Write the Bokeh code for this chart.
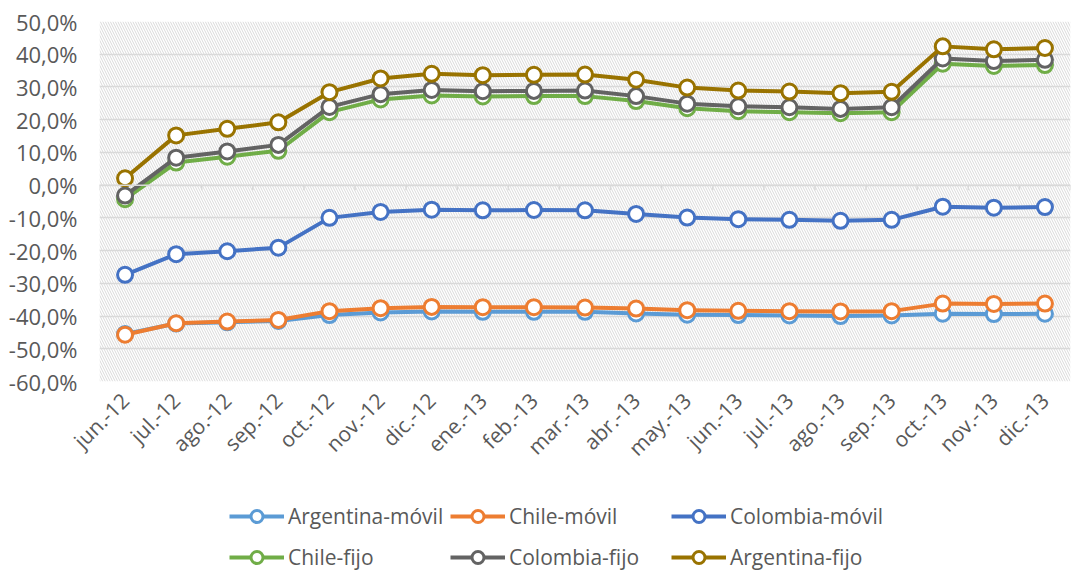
from bokeh.plotting import figure
from bokeh.layouts import column
from bokeh.models import (FactorRange, Range1d, CustomJSTickFormatter, FixedTicker,
                          BoxAnnotation, Legend, LegendItem, Span, ColumnDataSource)
from bokeh.transform import dodge
from bokeh.embed import file_html
from bokeh.resources import INLINE
import math

months = ["jun.-12", "jul.-12", "ago.-12", "sep.-12", "oct.-12", "nov.-12", "dic.-12",
          "ene.-13", "feb.-13", "mar.-13", "abr.-13", "may.-13", "jun.-13", "jul.-13",
          "ago.-13", "sep.-13", "oct.-13", "nov.-13", "dic.-13"]

argentina_movil = [-45.5, -42.3, -41.9, -41.5, -39.7, -38.9, -38.6, -38.7, -38.7, -38.7,
                   -39.2, -39.6, -39.7, -39.8, -40.0, -39.8, -39.3, -39.4, -39.3]
chile_movil = [-45.7, -42.2, -41.7, -41.2, -38.5, -37.6, -37.2, -37.3, -37.3, -37.4,
               -37.7, -38.2, -38.4, -38.5, -38.6, -38.5, -36.2, -36.3, -36.2]
colombia_movil = [-27.4, -21.1, -20.2, -19.1, -10.0, -8.2, -7.5, -7.7, -7.6, -7.7,
                  -8.8, -9.9, -10.4, -10.6, -10.9, -10.6, -6.6, -6.9, -6.7]
chile_fijo = [-4.3, 6.9, 8.7, 10.5, 22.3, 26.2, 27.4, 27.1, 27.2, 27.2,
              25.7, 23.5, 22.6, 22.3, 22.0, 22.3, 37.1, 36.4, 36.7]
colombia_fijo = [-3.2, 8.4, 10.3, 12.3, 23.9, 27.8, 29.1, 28.7, 28.8, 28.9,
                 27.2, 24.9, 24.1, 23.8, 23.3, 23.8, 38.7, 37.9, 38.3]
argentina_fijo = [2.1, 15.2, 17.2, 19.2, 28.4, 32.6, 34.0, 33.6, 33.7, 33.8,
                  32.2, 29.8, 28.9, 28.6, 28.1, 28.5, 42.4, 41.5, 41.9]

series_names = ["Argentina-móvil", "Chile-móvil", "Colombia-móvil",
                "Chile-fijo", "Colombia-fijo", "Argentina-fijo"]
series_values = [argentina_movil, chile_movil, colombia_movil,
                 chile_fijo, colombia_fijo, argentina_fijo]
series_colors = ["#5B9BD5", "#ED7D31", "#4472C4", "#70AD47", "#636363", "#997300"]
y_ticks = list(range(-60, 51, 10))

FONT = "Open Sans"
TXT = "#595959"

p = figure(x_range=FactorRange(*months, range_padding=0), y_range=Range1d(-60, 50),
           width=1072, height=476, output_backend="svg", toolbar_location=None,
           min_border_left=99, min_border_right=2, min_border_top=21, min_border_bottom=95)
p.outline_line_color = None
p.background_fill_color = "white"
p.border_fill_color = "white"

# hatched plot area
p.add_layout(BoxAnnotation(fill_alpha=0, line_alpha=0, hatch_pattern="\\",
                           hatch_color="#d9d9d9", hatch_scale=5, hatch_weight=1,
                           level="underlay"))

p.xgrid.visible = False
p.ygrid.grid_line_color = "#d9d9d9"
p.ygrid.grid_line_width = 1.5

p.yaxis.ticker = FixedTicker(ticks=y_ticks)
p.yaxis.formatter = CustomJSTickFormatter(code="return tick.toFixed(1).replace('.', ',') + '%';")
p.yaxis.axis_line_color = None
p.yaxis.major_tick_line_color = None
p.yaxis.minor_tick_line_color = None
p.yaxis.major_tick_out = 0
p.yaxis.major_label_standoff = 22
p.yaxis.major_label_text_font = FONT
p.yaxis.major_label_text_font_size = "22px"
p.yaxis.major_label_text_color = TXT

p.xaxis.axis_line_color = None
p.xaxis.major_tick_line_color = None
p.xaxis.major_tick_out = 0
p.xaxis.major_label_standoff = 15
p.xaxis.major_label_orientation = math.pi / 4
p.xaxis.major_label_text_font = FONT
p.xaxis.major_label_text_font_size = "21px"
p.xaxis.major_label_text_color = TXT

# zero axis line with category-boundary ticks
p.add_layout(Span(location=0, dimension="width", line_color="#d9d9d9", line_width=1.5))
tick_src = ColumnDataSource(dict(cat=months, y0=[0] * len(months), y1=[-1.6] * len(months)))
p.segment(x0=dodge("cat", -0.5, range=p.x_range), x1=dodge("cat", -0.5, range=p.x_range),
          y0="y0", y1="y1", source=tick_src, line_color="#d9d9d9", line_width=1.5)
p.segment(x0=dodge("cat", 0.5, range=p.x_range), x1=dodge("cat", 0.5, range=p.x_range),
          y0="y0", y1="y1", source=ColumnDataSource(dict(cat=[months[-1]], y0=[0], y1=[-1.6])),
          line_color="#d9d9d9", line_width=1.5)

for name, vals, col in zip(series_names, series_values, series_colors):
    src = ColumnDataSource(dict(x=months, y=vals))
    p.line("x", "y", source=src, line_color=col, line_width=4, line_join="round")
    p.scatter("x", "y", source=src, size=15, fill_color="white", line_color=col, line_width=3)

# legend panel (separate figure below the chart; its frame is aligned with the chart's)
lp = figure(width=1072, height=94, output_backend="svg", toolbar_location=None,
            x_axis_type=None, y_axis_type=None,
            x_range=Range1d(1000, 1001), y_range=Range1d(1000, 1001),
            min_border=0)
lp.outline_line_color = None
lp.grid.visible = False
lp.background_fill_color = "white"
lp.border_fill_color = "white"

legend_pos = [(130, 39), (351, 39), (572, 39),
              (130, -2), (351, -2), (572, -2)]
for name, vals, col, pos in zip(series_names, series_values, series_colors, legend_pos):
    # proxy renderers (same series, drawn outside this panel's visible range)
    proxy = ColumnDataSource(dict(x=list(range(len(vals))), y=vals))
    l = lp.line("x", "y", source=proxy, line_color=col, line_width=4)
    s = lp.scatter("x", "y", source=proxy, size=15, fill_color="white", line_color=col, line_width=3)
    lg = Legend(items=[LegendItem(label=name, renderers=[l, s])], location=pos,
                orientation="horizontal", glyph_width=55, glyph_height=30, label_height=30,
                label_standoff=4, padding=0, margin=0, spacing=0,
                border_line_color=None, background_fill_alpha=0,
                label_text_font=FONT, label_text_font_size="21px", label_text_color=TXT)
    lp.add_layout(lg, "center")

open("out.html", "w").write(file_html(column(p, lp, spacing=0), INLINE))
